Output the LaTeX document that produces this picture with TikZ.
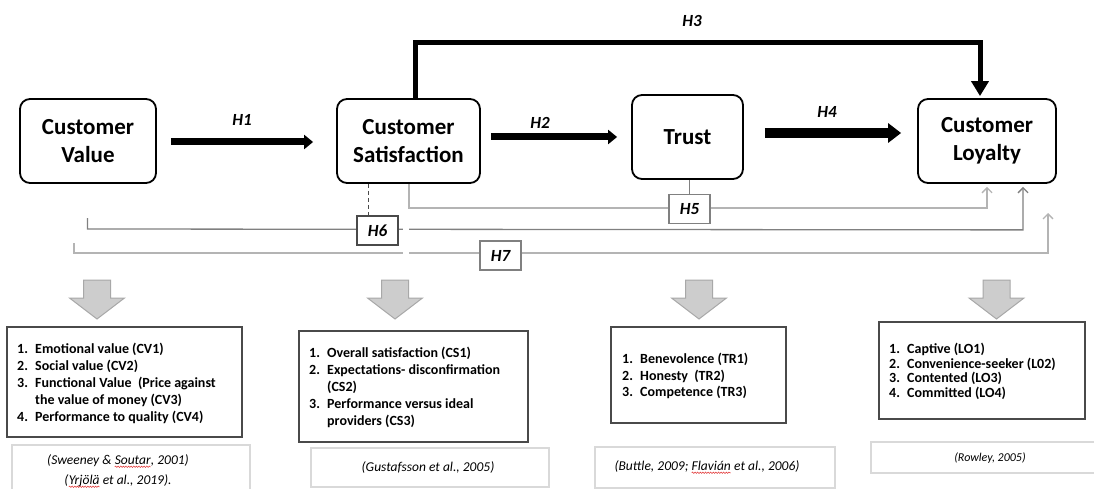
\documentclass[tikz,border=0pt]{standalone}
\usepackage{fontspec}
\setmainfont{Carlito}
\usetikzlibrary{arrows.meta,calc,decorations.pathmorphing}
\pgfdeclarelayer{bg}
\pgfsetlayers{bg,main}
\definecolor{lgray}{HTML}{B4B4B4}
\definecolor{mgray}{HTML}{808080}
\definecolor{dgray}{HTML}{4A4A4A}
\definecolor{bafill}{HTML}{CDCDCD}
\definecolor{badraw}{HTML}{A8A8A8}
\definecolor{cboxc}{HTML}{D9D9D9}
\definecolor{squig}{HTML}{E03030}
\newcommand\redsq[1]{\tikz[baseline=(sqw.base)]{\node[inner sep=0pt,outer sep=0pt] (sqw) {#1};\draw[squig,line width=0.5pt,decorate,decoration={snake,amplitude=0.7pt,segment length=2.6pt}] ([yshift=-2.6pt]sqw.base west) -- ([yshift=-2.6pt]sqw.base east);}}
\newcommand\numbx[1]{\makebox[18pt][l]{#1}}
\begin{document}
\begin{tikzpicture}[x=1pt,y=-1pt,
  topbox/.style={draw=black,line width=1.8pt,rounded corners=10pt,align=center,inner sep=0pt,font=\fontsize{23}{28}\selectfont\bfseries},
  hlab/.style={inner sep=0pt,font=\fontsize{17}{20}\selectfont\bfseries\itshape},
  hbox/.style={draw=#1,fill=white,line width=1.2pt,minimum width=41pt,minimum height=29pt,inner sep=0pt,font=\fontsize{17}{20}\selectfont\bfseries\itshape},
  fatarrow/.style={line width=7pt,-{Triangle[length=9pt,width=14pt]}},
  hugearrow/.style={line width=10pt,-{Triangle[length=13pt,width=19pt]}},
  toparrow/.style={line width=5pt,-{Triangle[length=15pt,width=17pt]}},
  gline/.style={draw=#1,line width=1.3pt},
  gtip/.style={-{Straight Barb[length=5pt,width=10pt]}},
  listbox/.style={draw=dgray,line width=1.3pt,inner sep=0pt},
  citebox/.style={draw=cboxc,line width=1.2pt,inner sep=0pt},
  lt/.style={anchor=base west,inner sep=0pt,font=\fontsize{14}{16}\selectfont\bfseries},
  ct/.style={inner sep=0pt,font=\fontsize{13.5}{16}\selectfont\itshape},
  blockarr/.style={fill=bafill,draw=badraw,line width=1pt}
]
\useasboundingbox (0,0) rectangle (1094,489);
\clip (0,0) rectangle (1094,489);

% main boxes
\node[topbox,minimum width=136pt,minimum height=84pt] (cv) at (88,141) {Customer\\Value};
\node[topbox,minimum width=143pt,minimum height=84pt] (cs) at (408.5,141) {Customer\\Satisfaction};
\node[topbox,minimum width=111pt,minimum height=84pt] (tr) at (687.5,137) {Trust};
\node[topbox,minimum width=138pt,minimum height=84pt] (cl) at (987,141) {Customer\\Loyalty};

% hypothesis arrows
\draw[fatarrow,shorten <=14pt,shorten >=23pt] ($(cv.east)+(0,1)$) -- ($(cs.west)+(0,1)$);
\draw[fatarrow,shorten <=10pt,shorten >=14pt] ($(cs.east)+(0,-4)$) -- (tr.west);
\draw[hugearrow,shorten <=21pt,shorten >=16pt] ($(tr.east)+(0,-4)$) -- ($(cl.west)+(0,-8)$);
\draw[toparrow,shorten >=2pt] ($(cs.north)+(6.5,0)$) -- ++(0,-56) -| ($(cl.north)+(-7,0)$);

\node[hlab] (l1) at (242,120) {H1};
\node[hlab] (l2) at (540,123) {H2};
\node[hlab] (l3) at (692,21) {H3};
\node[hlab] (l4) at (827,112) {H4};

% mediation boxes
\node[hbox=mgray] (h5) at (689.5,209) {H5};
\node[hbox=dgray] (h6) at (377.5,230.5) {H6};
\node[hbox=mgray] (h7) at (500.5,255.5) {H7};

\coordinate (h6s) at (87.5,218);
\coordinate (h7s) at (74,243);
\coordinate (h7e) at (1048,213);
\coordinate (dtop) at ($(cs.south)+(-40.5,0)$);

\begin{pgfonlayer}{bg}
\draw[gline=lgray,gtip,shorten >=3pt] ($(cs.south)+(0.5,0)$) -- ++(0,24) -- ($(cl.south)+(0,24)$) -- (cl.south);
\draw[gline=mgray] (h5.north |- tr.south) -- (h5.north);
\draw[gline=mgray,gtip,shorten >=3pt] (h6s) -- ++(0,11) -- ($(cl.south)+(36,46)$) -- ($(cl.south)+(36,0)$);
\draw[gline=dgray,line width=1pt,dash pattern=on 4pt off 3pt] (dtop) -- (dtop |- h6.north);
\draw[gline=lgray,gtip] (h7s) -- ++(0,10) -- ($(h7e)+(0,40)$) -- (h7e);
\draw[white,line width=3pt] (403,229) -- (409,229) (403,253) -- (409,253);
\end{pgfonlayer}

% block arrows
\foreach \ax in {97,395,699,996.5}
  \filldraw[blockarr] (\ax-13.5,280) -- (\ax+13.5,280) -- (\ax+13.5,298) -- (\ax+27.5,298) -- (\ax,319) -- (\ax-27.5,298) -- (\ax-13.5,298) -- cycle;

% lists
\node[listbox,minimum width=235pt,minimum height=110pt] (cvl) at (124.5,382) {};
\node[lt] (cv1) at (17,353.5) {\numbx{1.}Emotional value (CV1)};
\node[lt] (cv2) at (17,370.4) {\numbx{2.}Social value (CV2)};
\node[lt] (cv3) at (17,387.3) {\numbx{3.}Functional Value\ \ (Price against};
\node[lt] (cv3b) at (17,404.2) {\numbx{}the value of money (CV3)};
\node[lt] (cv4) at (17,421.1) {\numbx{4.}Performance to quality (CV4)};

\node[listbox,minimum width=229pt,minimum height=111pt] (csl) at (413.5,386.5) {};
\node[lt] (cs1) at (309,357.5) {\numbx{1.}Overall satisfaction (CS1)};
\node[lt] (cs2) at (309,374.5) {\numbx{2.}Expectations- disconfirmation};
\node[lt] (cs2b) at (309,391.5) {\numbx{}(CS2)};
\node[lt] (cs3) at (309,408.5) {\numbx{3.}Performance versus ideal};
\node[lt] (cs3b) at (309,425.5) {\numbx{}providers (CS3)};

\node[listbox,minimum width=175pt,minimum height=96pt] (trl) at (698.5,375) {};
\node[lt] (tr1) at (622,363.5) {\numbx{1.}Benevolence (TR1)};
\node[lt] (tr2) at (622,380) {\numbx{2.}Honesty\ \ (TR2)};
\node[lt] (tr3) at (622,396.5) {\numbx{3.}Competence (TR3)};

\node[listbox,minimum width=206pt,minimum height=97pt] (lol) at (982,370.5) {};
\node[lt] (lo1) at (889,353.5) {\numbx{1.}Captive (LO1)};
\node[lt] (lo2) at (889,368) {\numbx{2.}Convenience-seeker (L02)};
\node[lt] (lo3) at (889,382.5) {\numbx{3.}Contented (LO3)};
\node[lt] (lo4) at (889,397) {\numbx{4.}Committed (LO4)};

% citations
\node[citebox,minimum width=238pt,minimum height=50pt] (cvc) at (131,470) {};
\node[ct] (cvc1) at (118,461) {(Sweeney \& \redsq{Soutar}, 2001)};
\node[ct] (cvc2) at (118,481) {(\redsq{Yrjölä} et al., 2019).};
\node[citebox,minimum width=238pt,minimum height=39pt] (csc) at (430,467.5) {};
\node[ct] (csc1) at (428,467) {(Gustafsson et al., 2005)};
\node[citebox,minimum width=240pt,minimum height=41pt] (trc) at (715,467.5) {};
\node[ct] (trc1) at (707,467) {(Buttle, 2009; \redsq{Flavián} et al., 2006)};
\node[citebox,minimum width=229pt,minimum height=31pt] (loc) at (985.5,457.5) {};
\node[ct,font=\fontsize{12}{14}\selectfont\itshape] (loc1) at (990,458) {(Rowley, 2005)};
\end{tikzpicture}
\end{document}
